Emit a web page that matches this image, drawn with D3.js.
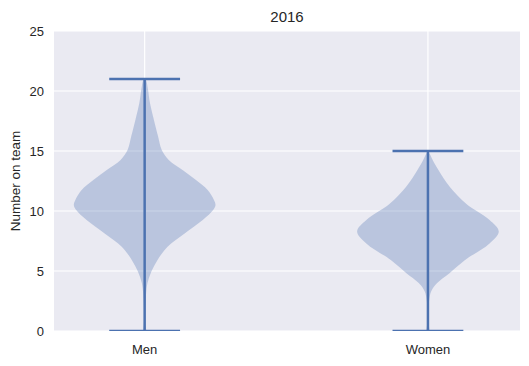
<!DOCTYPE html>
<html>
<head>
<meta charset="utf-8">
<script src="https://cdn.jsdelivr.net/npm/d3@7"></script>
<style>
  body { margin: 0; background: #fff; }
  text { font-family: "Liberation Sans", Arial, sans-serif; fill: #262626; }
</style>
</head>
<body>
<svg id="chart" width="529" height="366"></svg>
<script>
// categories and their positions on the x axis
var categories = ["Men", "Women"];
var positions = [1, 2];

// violin outline: values along the y axis and relative half-width (1 = widest)
var menValues = [0, 0.5, 1, 2, 3.1, 4.0, 4.95, 5.9, 7.0, 8.1, 9.25, 10.1, 10.5, 10.9, 11.75, 12.6, 13.4, 14.25, 15.1, 16.2, 17.6, 19.0, 20.2, 20.9, 21];
var menWidths = [0.025, 0.012, 0.008, 0.01, 0.02, 0.04, 0.095, 0.18, 0.32, 0.56, 0.82, 0.97, 1.0, 0.98, 0.89, 0.72, 0.54, 0.34, 0.24, 0.19, 0.13, 0.075, 0.045, 0.02, 0];

var womenValues = [0, 0.5, 1, 2, 2.6, 3.3, 4.0, 4.8, 5.9, 7.3, 8.3, 9.25, 10.6, 12, 13.4, 14.2, 14.7, 15];
var womenWidths = [0.025, 0.012, 0.008, 0.01, 0.018, 0.045, 0.13, 0.3, 0.52, 0.87, 1.0, 0.87, 0.54, 0.31, 0.15, 0.07, 0.03, 0];

// extrema bars
var minValues = [0, 0];
var maxValues = [21, 15];

var yTicks = [0, 5, 10, 15, 20, 25];

var svg = d3.select("#chart");
var m = { left: 54, right: 520, top: 31, bottom: 331 };

var x = d3.scaleLinear().domain([0.68, 2.325]).range([m.left, m.right]);
var y = d3.scaleLinear().domain([0, 25]).range([m.bottom, m.top]);
var blue = "#4C72B0";

svg.append("clipPath").attr("id", "plot-clip")
  .append("rect")
  .attr("x", m.left).attr("y", m.top)
  .attr("width", m.right - m.left).attr("height", m.bottom - m.top);

// background
svg.append("rect")
  .attr("x", m.left).attr("y", m.top)
  .attr("width", m.right - m.left).attr("height", m.bottom - m.top)
  .attr("fill", "#EAEAF2");

// grid lines
svg.append("g").selectAll("line").data(yTicks).join("line")
  .attr("x1", m.left).attr("x2", m.right)
  .attr("y1", function (d) { return y(d); }).attr("y2", function (d) { return y(d); })
  .attr("stroke", "#fff").attr("stroke-width", 1.2);
svg.append("g").selectAll("line").data(positions).join("line")
  .attr("x1", function (d) { return x(d); }).attr("x2", function (d) { return x(d); })
  .attr("y1", m.top).attr("y2", m.bottom)
  .attr("stroke", "#fff").attr("stroke-width", 1.2);

var plot = svg.append("g").attr("clip-path", "url(#plot-clip)");

// violins
var profiles = [
  menValues.map(function (v, i) { return { v: v, w: menWidths[i] }; }),
  womenValues.map(function (v, i) { return { v: v, w: womenWidths[i] }; })
];

profiles.forEach(function (prof, k) {
  var pos = positions[k];
  var area = d3.area()
    .y(function (d) { return y(d.v); })
    .x0(function (d) { return x(pos - 0.25 * d.w); })
    .x1(function (d) { return x(pos + 0.25 * d.w); })
    .curve(d3.curveCatmullRom.alpha(0.5));
  plot.append("path")
    .datum(prof)
    .attr("d", area)
    .attr("fill", blue)
    .attr("fill-opacity", 0.3);
});

// center lines and caps
var g = plot.append("g").attr("stroke", blue).attr("stroke-width", 2.5);
positions.forEach(function (pos, k) {
  g.append("line")
    .attr("x1", x(pos)).attr("x2", x(pos))
    .attr("y1", y(minValues[k])).attr("y2", y(maxValues[k]));
  [minValues[k], maxValues[k]].forEach(function (v) {
    g.append("line")
      .attr("x1", x(pos - 0.125)).attr("x2", x(pos + 0.125))
      .attr("y1", y(v)).attr("y2", y(v));
  });
});

// y tick labels
svg.append("g").selectAll("text").data(yTicks).join("text")
  .attr("x", m.left - 10)
  .attr("y", function (d) { return y(d); })
  .attr("dy", "0.35em")
  .attr("text-anchor", "end")
  .attr("font-size", 13)
  .text(function (d) { return d; });

// x tick labels
svg.append("g").selectAll("text").data(categories).join("text")
  .attr("x", function (d, i) { return x(positions[i]); })
  .attr("y", m.bottom + 23)
  .attr("text-anchor", "middle")
  .attr("font-size", 13)
  .text(function (d) { return d; });

// y axis label
svg.append("text")
  .attr("transform", "translate(20," + ((m.top + m.bottom) / 2) + ") rotate(-90)")
  .attr("text-anchor", "middle")
  .attr("font-size", 13.5)
  .text("Number on team");

// title
svg.append("text")
  .attr("x", (m.left + m.right) / 2)
  .attr("y", 22)
  .attr("text-anchor", "middle")
  .attr("font-size", 15)
  .text("2016");
</script>
</body>
</html>
